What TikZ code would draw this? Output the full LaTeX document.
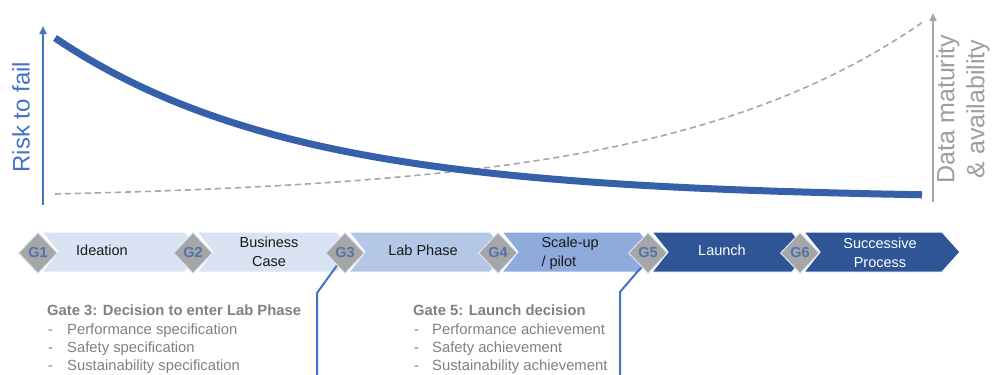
\documentclass[tikz,border=0pt]{standalone}
\usepackage{fontspec}
\setmainfont{Liberation Sans}
\usetikzlibrary{shapes.geometric,arrows.meta}
\definecolor{axblue}{HTML}{4472C4}
\definecolor{curveblue}{HTML}{3760AA}
\definecolor{axgray}{HTML}{A6A6A6}
\definecolor{txtgray}{HTML}{808080}
\definecolor{cA}{HTML}{DAE3F3}
\definecolor{cB}{HTML}{B4C7E7}
\definecolor{cC}{HTML}{8FAADC}
\definecolor{cD}{HTML}{2F5597}
\definecolor{gtext}{HTML}{5073AE}
\tikzset{
  gate/.style={diamond, minimum width=39pt, minimum height=41pt, inner sep=0pt,
    fill=axgray, draw=cA, line width=1pt, text=gtext,
    font=\fontsize{14.5}{16}\selectfont\bfseries},
  phase/.style={font=\fontsize{14.5}{19}\selectfont, align=center, text=black!90},
  chev/.style={draw=white, line width=1pt},
  gtitle/.style={anchor=base west, text=txtgray, font=\fontsize{14.8}{17}\selectfont\bfseries, inner sep=0pt},
  gitem/.style={anchor=base west, text=txtgray, font=\fontsize{14.8}{17}\selectfont, inner sep=0pt},
  callout/.style={draw=axblue, line width=2pt},
}
\begin{document}
\begin{tikzpicture}[x=1pt,y=-1pt]
\useasboundingbox (0,0) rectangle (994,375);
% axes
\coordinate (lbot) at (43,205);
\coordinate (ltop) at (43,26);
\draw[axblue, line width=2pt, -{Triangle[length=8pt,width=7pt]}] (lbot) -- (ltop);
\coordinate (rbot) at (933,202);
\coordinate (rtop) at (933,13);
\draw[axgray, line width=2pt, -{Triangle[length=8pt,width=7pt]}] (rbot) -- (rtop);
\node[rotate=90, text=axblue, font=\fontsize{24}{28}\selectfont, inner sep=0pt] (risk) at (21,117) {Risk to fail};
\node[rotate=90, text=axgray!95!black, font=\fontsize{25}{30}\selectfont, align=center, inner sep=0pt] (data) at (963,109) {Data maturity\\\& availability};
% curves
\draw[axgray, line width=1.6pt, dash pattern=on 6pt off 4pt] plot[domain=55:922, samples=120]
  (\x, {194 - 6.0*(exp(0.0039*(\x-55))-1)});
\draw[curveblue, line width=7pt] plot[domain=55:922, samples=120]
  (\x, {199 - 161*exp(-0.0042*(\x-55))});
% chevrons
\def\yt{232}\def\ym{252}\def\yb{272}
\fill[cA, chev] (42,\yt) -- (185,\yt) -- (201,\ym) -- (185,\yb) -- (42,\yb) -- (58,\ym) -- cycle;
\fill[cA, chev] (197,\yt) -- (337,\yt) -- (353,\ym) -- (337,\yb) -- (197,\yb) -- (213,\ym) -- cycle;
\fill[cB, chev] (349,\yt) -- (490,\yt) -- (506,\ym) -- (490,\yb) -- (349,\yb) -- (365,\ym) -- cycle;
\fill[cC, chev] (502,\yt) -- (640,\yt) -- (656,\ym) -- (640,\yb) -- (502,\yb) -- (518,\ym) -- cycle;
\fill[cD, chev] (652,\yt) -- (792,\yt) -- (808,\ym) -- (792,\yb) -- (652,\yb) -- (668,\ym) -- cycle;
\fill[cD, chev] (804,\yt) -- (942,\yt) -- (960,\ym) -- (942,\yb) -- (804,\yb) -- (820,\ym) -- cycle;
% phase labels
\node[phase] (ideation) at (102,250) {Ideation};
\node[phase] (business) at (269,252) {Business\\Case};
\node[phase] (lab) at (423,250) {Lab Phase};
\node[phase, align=left, anchor=west] (scale) at (538,253) {Scale-up\\/ pilot};
\node[phase, text=white] (launch) at (722,250) {Launch};
\node[phase, text=white] (succ) at (880,253) {Successive\\Process};
% callout lines
\coordinate (b3) at (317,293);
\coordinate (e3) at (317,376);
\coordinate (b5) at (620,292);
\coordinate (e5) at (620,376);
\coordinate (s3) at (338,264);
\coordinate (s5) at (644,264);
\draw[callout] (s3) -- (b3) -- (e3);
\draw[callout] (s5) -- (b5) -- (e5);
% gates
\node[gate] (g1) at (38,253) {G1};
\node[gate] (g2) at (193,253) {G2};
\node[gate] (g3) at (345,253) {G3};
\node[gate] (g4) at (498,253) {G4};
\node[gate] (g5) at (648,253) {G5};
\node[gate] (g6) at (800,253) {G6};
% gate texts
\node[gtitle] (t3) at (47,315) {Gate 3: Decision to enter Lab Phase};
\node[gitem] (d3a) at (48,334) {-};
\node[gitem] (i3a) at (67,334) {Performance specification};
\node[gitem] (d3b) at (48,352) {-};
\node[gitem] (i3b) at (67,352) {Safety specification};
\node[gitem] (d3c) at (48,370) {-};
\node[gitem] (i3c) at (67,370) {Sustainability specification};
\node[gtitle] (t5) at (413,315) {Gate 5: Launch decision};
\node[gitem] (d5a) at (414,334) {-};
\node[gitem] (i5a) at (432,334) {Performance achievement};
\node[gitem] (d5b) at (414,352) {-};
\node[gitem] (i5b) at (432,352) {Safety achievement};
\node[gitem] (d5c) at (414,370) {-};
\node[gitem] (i5c) at (432,370) {Sustainability achievement};
\end{tikzpicture}
\end{document}
